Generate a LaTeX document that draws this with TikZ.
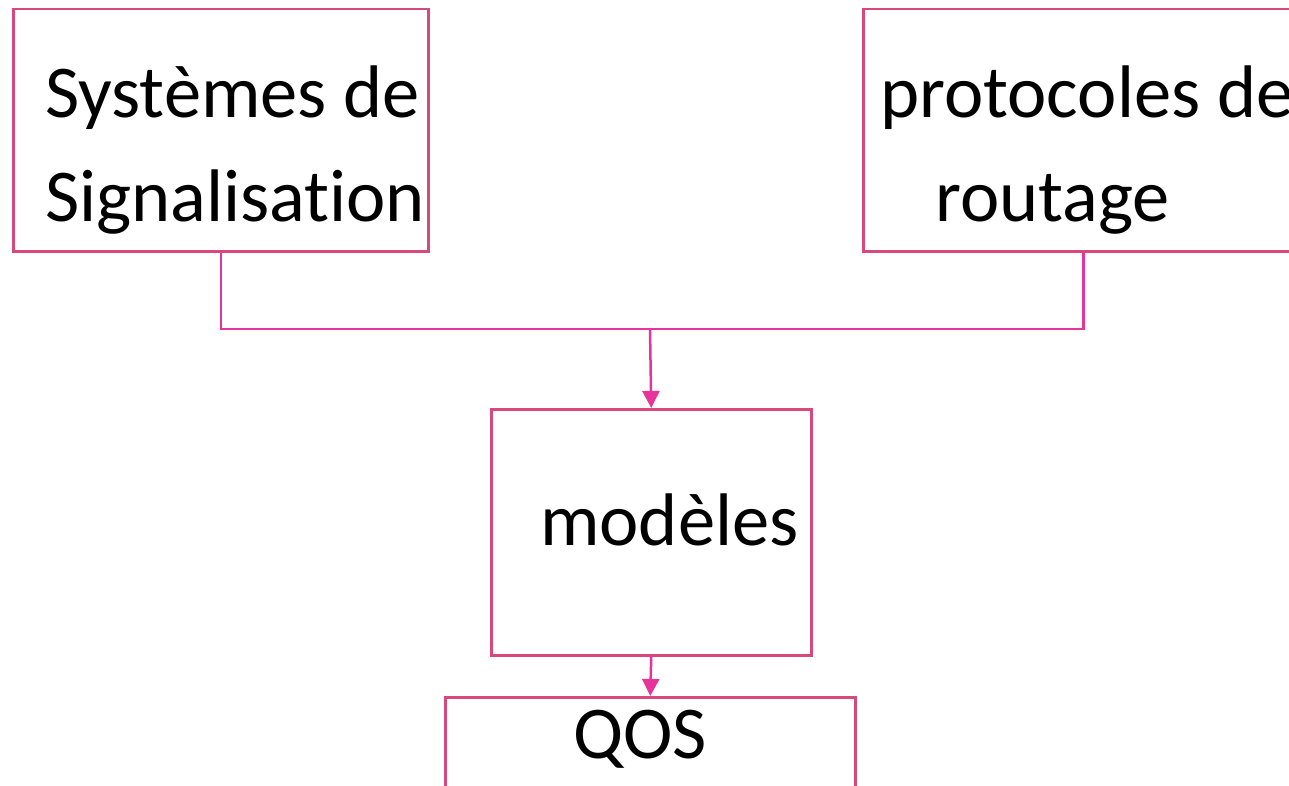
\documentclass[tikz,border=0pt]{standalone}
\usepackage{fontspec}
\setmainfont{Carlito}[Ligatures={NoCommon}]
\usetikzlibrary{arrows.meta}
\definecolor{boxpink}{HTML}{D9487A}
\definecolor{linkpink}{HTML}{E8339A}
\begin{document}
\begin{tikzpicture}[x=1pt,y=-1pt,
  box/.style={draw=boxpink,line width=2.5pt,rectangle,anchor=north west,inner sep=0pt},
  conn/.style={draw=linkpink,line width=2.5pt},
  arr/.style={conn,-{Triangle[length=17pt,width=17pt]}},
  lbl/.style={anchor=base west,inner sep=0pt,font=\fontsize{74.5}{90}\selectfont}]
\useasboundingbox (0,0) rectangle (1289,786);
\clip (0,0) rectangle (1289,786);
\node[box,minimum width=415pt,minimum height=242pt] (b1) at (12,8) {};
\node[box,minimum width=440pt,minimum height=242pt] (b2) at (862,8) {};
\node[box,minimum width=320pt,minimum height=246pt] (b3) at (490,408) {};
\node[box,minimum width=410pt,minimum height=130pt] (b4) at (444,696) {};
\node[lbl] (t1) at (45,118) {Systèmes de};
\node[lbl] (t2) at (45,222) {Signalisation};
\node[lbl] (t3) at (880,118) {protocoles de};
\node[lbl] (t4) at (935,222) {routage};
\node[lbl] (t5) at (540,545) {modèles};
\node[lbl] (t6) at (573,758) {QOS};
\coordinate (j) at (650,329);
\draw[conn] (b1.south) |- (j) -| (b2.south);
\draw[arr] (j) -- (b3.north);
\draw[arr] (b3.south) -- (b4.north);
\end{tikzpicture}
\end{document}
